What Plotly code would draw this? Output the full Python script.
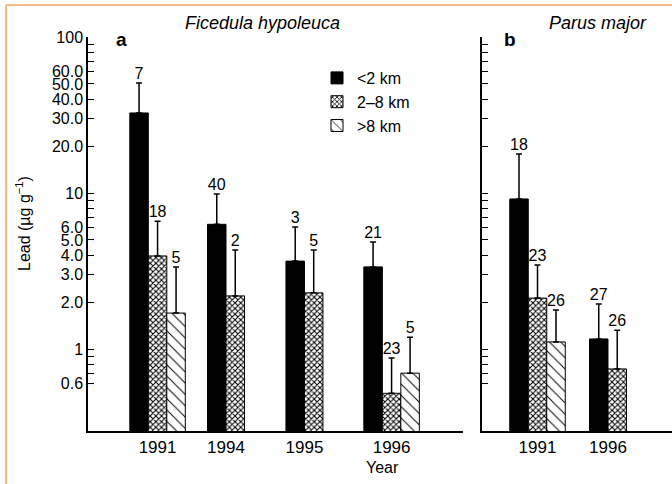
import plotly.graph_objects as go

# ---------------- data ----------------
years_a = ["1991", "1994", "1995", "1996"]
years_b = ["1991", "1996"]
series_names = ["<2 km", "2–8 km", ">8 km"]

# Panel a: Ficedula hypoleuca (mean lead, µg/g)
near_a = [32.6, 6.3, 3.66, 3.36]
mid_a = [3.95, 2.19, 2.29, 0.52]
far_a = [1.70, None, None, 0.70]
# upper end of error bars
near_a_up = [50.7, 9.86, 6.05, 4.85]
mid_a_up = [6.6, 4.31, 4.31, 0.875]
far_a_up = [3.35, None, None, 1.19]
# sample sizes
near_a_n = [7, 40, 3, 21]
mid_a_n = [18, 2, 5, 23]
far_a_n = [5, None, None, 5]

# Panel b: Parus major
near_b = [9.16, 1.16]
mid_b = [2.12, 0.745]
far_b = [1.11, None]
near_b_up = [17.8, 1.94]
mid_b_up = [3.45, 1.32]
far_b_up = [1.78, None]
near_b_n = [18, 27]
mid_b_n = [23, 26]
far_b_n = [26, None]

# y tick labels
ytick_vals = [0.6, 1, 2, 3, 4, 5, 6, 10, 20, 30, 40, 50, 60, 100]
ytick_text = ["0.6", "1", "2.0", "3.0", "4.0", "5.0", "6.0", "10",
              "20.0", "30.0", "40.0", "50.0", "60.0", "100"]
ytick_minor = [0.7, 0.8, 0.9, 7, 8, 9, 70, 80, 90]
ytick_major = [1, 10, 100]

# ---------------- layout constants ----------------
group_pos_a = [3.76, 7.46, 11.70, 16.41]
group_pos_b = [3.0, 6.81]
bar_w = 1.0

styles = [
    dict(color="black", pattern=None),
    dict(color="white", pattern=dict(shape="x", fgcolor="black", bgcolor="white",
                                     size=4, solidity=0.45, fillmode="replace")),
    dict(color="white", pattern=dict(shape="\\", fgcolor="black", bgcolor="white",
                                     size=8, solidity=0.12, fillmode="replace")),
]

font_family = "Liberation Sans, Arial, Helvetica, sans-serif"
fig = go.Figure()


def add_panel(group_pos, vals, ups, ns, xa, ya, show_legend):
    nyears = len(group_pos)
    xs = [[None] * nyears for _ in vals]
    for j in range(nyears):
        present = [i for i in range(len(vals)) if vals[i][j] is not None]
        k = len(present)
        for rank, i in enumerate(present):
            xs[i][j] = group_pos[j] + (rank - (k - 1) / 2) * bar_w
    for i in range(len(vals)):
        idx = [j for j in range(nyears) if vals[i][j] is not None]
        x = [xs[i][j] for j in idx]
        y = [vals[i][j] for j in idx]
        up = [ups[i][j] - vals[i][j] for j in idx]
        marker = dict(color=styles[i]["color"], line=dict(color="black", width=1))
        if styles[i]["pattern"] is not None:
            marker["pattern"] = styles[i]["pattern"]
        fig.add_trace(go.Bar(
            x=x, y=y, width=bar_w, name=series_names[i], marker=marker,
            error_y=dict(type="data", symmetric=False, array=up,
                         arrayminus=[0] * len(up), color="black",
                         thickness=1.5, width=3),
            xaxis=xa, yaxis=ya, showlegend=show_legend,
            legendgroup="g%d" % i,
        ))
        fig.add_trace(go.Scatter(
            x=x, y=[ups[i][j] for j in idx], text=[str(ns[i][j]) for j in idx],
            mode="text", textposition="top center",
            textfont=dict(size=16, color="black", family=font_family),
            xaxis=xa, yaxis=ya, showlegend=False, hoverinfo="skip",
            cliponaxis=False,
        ))


add_panel(group_pos_a, [near_a, mid_a, far_a], [near_a_up, mid_a_up, far_a_up],
          [near_a_n, mid_a_n, far_a_n], "x", "y", True)
add_panel(group_pos_b, [near_b, mid_b, far_b], [near_b_up, mid_b_up, far_b_up],
          [near_b_n, mid_b_n, far_b_n], "x2", "y2", False)

W, H = 672, 484
ax_left_a, ax_right_a = 88, 463
ax_left_b, ax_right_b = 482, 672
y_top, y_bot = 37, 431
yrange = [-0.5256, 2.0]


def px_x(p):
    return p / W


def px_y(p):
    return 1 - p / H


ydom = [px_y(y_bot), px_y(y_top)]
yaxis_common = dict(
    type="log", range=yrange, domain=ydom, automargin=False,
    showline=True, linewidth=1.5, linecolor="black",
    ticks="inside", ticklen=6, tickwidth=1.2, tickcolor="black",
    tickmode="array", tickvals=ytick_vals, ticktext=ytick_text,
    minor=dict(tickmode="array", tickvals=ytick_minor, ticks="inside",
               ticklen=6, tickwidth=1.2, tickcolor="black", showgrid=False),
    showgrid=False, zeroline=False,
    tickfont=dict(size=16, color="black", family=font_family),
)
yaxis_major = dict(
    type="log", range=yrange, domain=ydom, showline=False, automargin=False,
    ticks="inside", ticklen=12, tickwidth=1.5, tickcolor="black",
    tickmode="array", tickvals=ytick_major, showticklabels=False,
    showgrid=False, zeroline=False,
)

xrange_a = [0, (ax_right_a - ax_left_a) / 18.5]
xrange_b = [0, (ax_right_b - ax_left_b) / 18.5]

xaxis_common = dict(
    showline=True, linewidth=2, linecolor="black", ticks="",
    showgrid=False, zeroline=False, automargin=False,
    tickfont=dict(size=17, color="black", family=font_family),
    tickmode="array",
)

fig.update_layout(
    width=W, height=H,
    margin=dict(l=0, r=0, t=0, b=0, autoexpand=False),
    paper_bgcolor="white", plot_bgcolor="white",
    barmode="overlay",
    font=dict(family=font_family, color="black"),
    xaxis=dict(xaxis_common, domain=[px_x(ax_left_a), px_x(ax_right_a)],
               range=xrange_a, tickvals=group_pos_a, ticktext=years_a,
               anchor="y"),
    xaxis2=dict(xaxis_common, domain=[px_x(ax_left_b), px_x(ax_right_b)],
                range=xrange_b, tickvals=group_pos_b, ticktext=years_b,
                anchor="y2"),
    yaxis=dict(yaxis_common, anchor="x"),
    yaxis2=dict(yaxis_common, anchor="x2", showticklabels=False),
    yaxis3=dict(yaxis_major, overlaying="y", anchor="x"),
    yaxis4=dict(yaxis_major, overlaying="y2", anchor="x2"),
    legend=dict(x=px_x(317), y=px_y(61), xanchor="left", yanchor="top",
                font=dict(size=16, color="black", family=font_family),
                bgcolor="rgba(0,0,0,0)", itemwidth=30, tracegroupgap=10,
                traceorder="normal"),
    showlegend=True,
)

annotations = [
    dict(text="<i>Ficedula hypoleuca</i>", x=px_x(262), y=px_y(23),
         font=dict(size=18)),
    dict(text="<i>Parus major</i>", x=px_x(598), y=px_y(23),
         font=dict(size=18)),
    dict(text="<b>a</b>", x=px_x(121), y=px_y(39), font=dict(size=19)),
    dict(text="<b>b</b>", x=px_x(510), y=px_y(39), font=dict(size=19)),
    dict(text="Lead (µg g<sup>−1</sup>)", x=px_x(23), y=px_y(224),
         textangle=-90, font=dict(size=16)),
    dict(text="Year", x=px_x(382), y=px_y(467), font=dict(size=16)),
]
for a in annotations:
    a.update(xref="paper", yref="paper", showarrow=False,
             xanchor="center", yanchor="middle")
    a["font"].update(color="black", family=font_family)
fig.update_layout(annotations=annotations)

# orange frame (top and left)
border = "#F4A460"
fig.add_shape(type="line", xref="paper", yref="paper",
              x0=px_x(6), x1=1, y0=px_y(5), y1=px_y(5),
              line=dict(color=border, width=1.5))
fig.add_shape(type="line", xref="paper", yref="paper",
              x0=px_x(6), x1=px_x(6), y0=px_y(5), y1=0,
              line=dict(color=border, width=1.5))

fig.write_html("out.html",
               config=dict(displayModeBar=False),
               post_script="document.body.style.margin='0';"
                           "document.body.style.padding='0';")
